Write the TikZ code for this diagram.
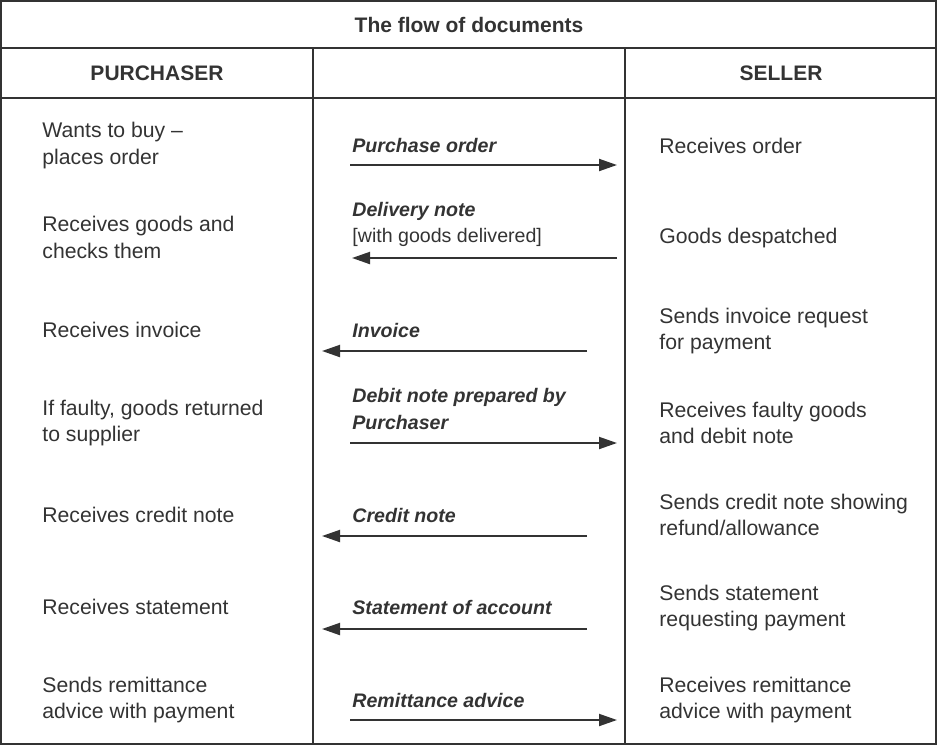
\documentclass[tikz,border=0pt]{standalone}
\usepackage{fontspec}
\setmainfont{Liberation Sans}
\usetikzlibrary{arrows.meta}
\definecolor{ink}{HTML}{333333}

\begin{document}
\begin{tikzpicture}[x=0.5pt,y=-0.5pt,
    rule/.style={draw=ink,line width=1pt},
    head/.style={font=\fontsize{10.5}{13.3}\selectfont\bfseries,text=ink},
    side/.style={anchor=west,align=left,inner sep=0pt,font=\fontsize{10.6}{13.3}\selectfont,text=ink},
    doc/.style={side,font=\fontsize{9.8}{13.3}\selectfont\bfseries\itshape},
    flow/.style={draw=ink,line width=1pt,-{Triangle[length=9pt,width=6pt]}}]

    \useasboundingbox (0,0) rectangle (938,746);
    \draw[rule] (1,1) rectangle (936,744);
    \draw[rule] (1,48) -- (936,48);
    \draw[rule] (1,98) -- (936,98);
    \draw[rule] (313,48) -- (313,744);
    \draw[rule] (625,48) -- (625,744);

    \node[head] (title) at (469,25) {The flow of documents};
    \node[head] (buyer) at (157,73) {PURCHASER};
    \node[head] (seller) at (781,73) {SELLER};

    \node[side] (buy) at (42,145.5) {Wants to buy --\\places order};
    \node[side] (goods) at (42,237.5) {Receives goods and\\checks them};
    \node[side] (inv) at (42,330) {Receives invoice};
    \node[side] (faulty) at (42,423) {If faulty, goods returned\\to supplier};
    \node[side] (credit) at (42,515) {Receives credit note};
    \node[side] (stmt) at (42,607) {Receives statement};
    \node[side] (remit) at (42,700) {Sends remittance\\advice with payment};

    \node[side] (order-s) at (659,146) {Receives order};
    \node[side] (goods-s) at (659,238) {Goods despatched};
    \node[side] (inv-s) at (659,331) {Sends invoice request\\for payment};
    \node[side] (faulty-s) at (659,423) {Receives faulty goods\\and debit note};
    \node[side] (credit-s) at (659,515) {Sends credit note showing\\refund/allowance};
    \node[side] (stmt-s) at (659,608) {Sends statement\\requesting payment};
    \node[side] (remit-s) at (659,700) {Receives remittance\\advice with payment};

    \node[doc] (po) at (352,145) {Purchase order};
    \node[doc] (dn) at (352,224.5) {Delivery note\\\mdseries\upshape [with goods delivered]};
    \node[doc] (iv) at (352,330) {Invoice};
    \node[doc] (db) at (352,409) {Debit note prepared by\\Purchaser};
    \node[doc] (cn) at (352,515) {Credit note};
    \node[doc] (sa) at (352,607) {Statement of account};
    \node[doc] (ra) at (352,700) {Remittance advice};

    \coordinate (po-a) at (350,165);
    \coordinate (po-b) at (617,165);
    \coordinate (dn-a) at (617,258);
    \coordinate (dn-b) at (352,258);
    \coordinate (iv-a) at (587,351);
    \coordinate (iv-b) at (322,351);
    \coordinate (db-a) at (350,443);
    \coordinate (db-b) at (617,443);
    \coordinate (cn-a) at (587,536);
    \coordinate (cn-b) at (322,536);
    \coordinate (sa-a) at (587,629);
    \coordinate (sa-b) at (322,629);
    \coordinate (ra-a) at (350,720);
    \coordinate (ra-b) at (617,720);

    \draw[flow] (po-a) -- (po-b);
    \draw[flow] (dn-a) -- (dn-b);
    \draw[flow] (iv-a) -- (iv-b);
    \draw[flow] (db-a) -- (db-b);
    \draw[flow] (cn-a) -- (cn-b);
    \draw[flow] (sa-a) -- (sa-b);
    \draw[flow] (ra-a) -- (ra-b);
\end{tikzpicture}
\end{document}
